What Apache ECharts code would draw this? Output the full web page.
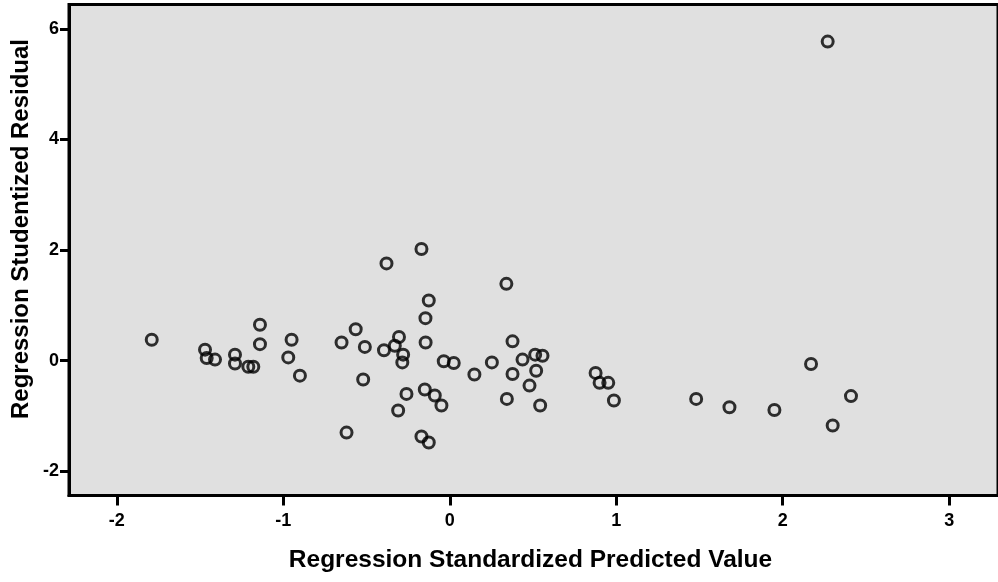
<!DOCTYPE html>
<html>
<head>
<meta charset="utf-8">
<script src="https://cdn.jsdelivr.net/npm/echarts@6/dist/echarts.min.js"></script>
<style>
html,body{margin:0;padding:0;background:#fff;}
#chart{width:998px;height:582px;}
</style>
</head>
<body>
<div id="chart"></div>
<script>
// Regression Standardized Predicted Value (x) vs Regression Studentized Residual (y)
var predictedValues = [
  -1.79, -1.47, -1.46, -1.41, -1.29, -1.29, -1.21, -1.18, -1.14, -1.14,
  -0.95, -0.97, -0.90, -0.65, -0.62, -0.17, -0.38, 0.34, -0.126, -0.146,
  -0.565, -0.51, -0.305, -0.33, -0.395, -0.28, -0.285, -0.145, -0.036, 0.024,
  0.253, 0.377, 0.437, 0.513, 0.557, 0.377, 0.519, 0.479, 0.148, -0.52,
  -0.26, -0.15, -0.09, -0.05, -0.31, 0.343, 0.543, -0.17, -0.126, 0.876,
  0.90, 0.952, 0.986, 1.48, 1.68, 1.95, 2.17, 2.30, 2.41, 2.27
];
var studentizedResiduals = [
  0.38, 0.20, 0.05, 0.02, 0.11, -0.05, -0.11, -0.11, 0.65, 0.30,
  0.38, 0.06, -0.27, 0.33, -1.30, 2.02, 1.76, 1.39, 1.09, 0.77,
  0.57, 0.25, 0.43, 0.27, 0.19, 0.11, -0.03, 0.33, -0.01, -0.04,
  -0.03, 0.35, 0.02, 0.11, 0.09, -0.24, -0.18, -0.45, -0.25, -0.34,
  -0.60, -0.52, -0.63, -0.81, -0.90, -0.69, -0.81, -1.37, -1.48, -0.22,
  -0.40, -0.40, -0.72, -0.69, -0.84, -0.89, -0.06, -1.17, -0.64, 5.77
];
var xTickValues = [-2, -1, 0, 1, 2, 3];
var yTickValues = [-2, 0, 2, 4, 6];
var xTitle = 'Regression Standardized Predicted Value';
var yTitle = 'Regression Studentized Residual';

var points = predictedValues.map(function (x, i) { return [x, studentizedResiduals[i]]; });
var FONT = '"Liberation Sans", Arial, sans-serif';

var chart = echarts.init(document.getElementById('chart'), null, {renderer: 'canvas'});
chart.setOption({
  animation: false,
  backgroundColor: '#ffffff',
  grid: {
    left: 69, top: 4.5, right: -3, bottom: 86.5,
    show: true, backgroundColor: '#e0e0e0', borderColor: '#000', borderWidth: 3
  },
  xAxis: {
    type: 'value',
    min: -2.287, max: 3.293,
    splitLine: {show: false},
    axisLine: {show: true, onZero: false, lineStyle: {color: '#000', width: 3}},
    axisTick: {show: true, customValues: xTickValues, length: 10, lineStyle: {color: '#000', width: 3}},
    axisLabel: {
      customValues: xTickValues, margin: 17,
      color: '#000', fontFamily: FONT, fontWeight: 'bold', fontSize: 18,
      formatter: function (v) { return String(Math.round(v)); }
    }
  },
  yAxis: {
    type: 'value',
    min: -2.437, max: 6.441,
    splitLine: {show: false},
    axisLine: {show: true, onZero: false, lineStyle: {color: '#000', width: 3}},
    axisTick: {show: true, customValues: yTickValues, length: 9, lineStyle: {color: '#000', width: 3}},
    axisLabel: {
      customValues: yTickValues, margin: 10,
      color: '#000', fontFamily: FONT, fontWeight: 'bold', fontSize: 18,
      formatter: function (v) { return String(Math.round(v)); }
    }
  },
  graphic: [
    {
      type: 'text', x: 530.5, y: 560,
      style: {text: xTitle, fill: '#000', font: 'bold 24.5px ' + FONT, textAlign: 'center', textVerticalAlign: 'middle'}
    },
    {
      type: 'text', x: 21, y: 229, rotation: Math.PI / 2,
      style: {text: yTitle, fill: '#000', font: 'bold 24px ' + FONT, textAlign: 'center', textVerticalAlign: 'middle'}
    }
  ],
  series: [{
    type: 'scatter',
    data: points,
    symbol: 'circle',
    symbolSize: 11,
    itemStyle: {color: 'rgba(0,0,0,0)', borderColor: '#000', borderWidth: 3},
    emphasis: {disabled: true}
  }]
});
</script>
</body>
</html>
